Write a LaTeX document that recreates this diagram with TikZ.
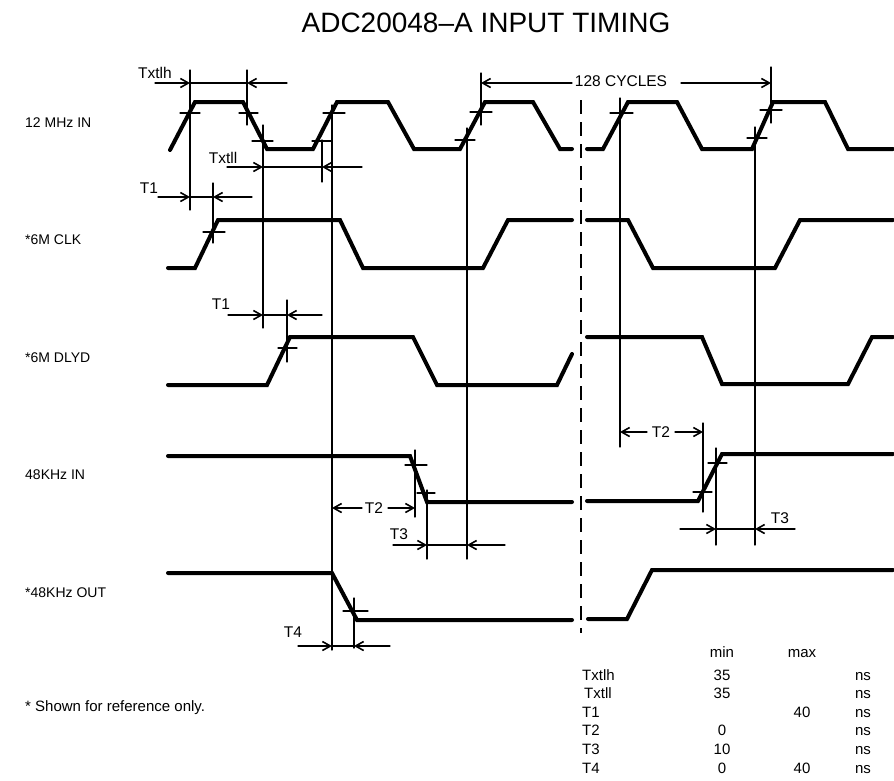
\documentclass[tikz,border=0pt]{standalone}
\usepackage{fontspec}
\setmainfont{Liberation Sans}
\usetikzlibrary{arrows.meta}

\begin{document}
\begin{tikzpicture}[line cap=round, line join=round, x=1pt, y=-1pt,
    wave/.style={line width=4pt, line join=miter},
    guide/.style={line width=1.3pt},
    dim/.style={line width=1.3pt, -{Straight Barb[length=8pt,width=9pt,line width=1.6pt]}},
    brk/.style={line width=2.5pt, line cap=butt, dash pattern=on 14pt off 8pt},
    ttl/.style={font=\fontsize{28}{32}\selectfont, anchor=base, inner sep=0pt},
    sig/.style={font=\fontsize{14}{16}\selectfont, anchor=base west, inner sep=0pt},
    tlabel/.style={font=\fontsize{15.5}{18}\selectfont, inner sep=0pt},
    tab/.style={font=\fontsize{15}{18}\selectfont, anchor=base, inner sep=0pt}]
    \useasboundingbox (0,0) rectangle (894,780);

    \node[ttl] (title) at (486,32) {ADC20048--A INPUT TIMING};

    % signal names
    \node[sig] (in12)  at (25,127) {12 MHz IN};
    \node[sig] (clk6)  at (25,244) {*6M CLK};
    \node[sig] (dly6)  at (25,362) {*6M DLYD};
    \node[sig] (in48)  at (25,479) {48KHz IN};
    \node[sig] (out48) at (25,597) {*48KHz OUT};
    \node[sig, font=\fontsize{15}{18}\selectfont] (note) at (25,711) {* Shown for reference only.};

    % break
    \draw[brk] (581,100) -- (581,633);

    % 12 MHz IN
    \draw[wave] (170,150) -- (195,102) -- (243,102) -- (267,149) -- (313,149) -- (337,102) -- (388,102)
        -- (414,149) -- (460,149) -- (485,102) -- (533,102) -- (560,149) -- (572,149);
    \draw[wave] (587,149) -- (603,149) -- (628,102) -- (677,102) -- (702,149) -- (752,149) -- (773,102)
        -- (825,102) -- (848,149) -- (893,149);

    % 6M CLK
    \draw[wave] (168,268) -- (195,268) -- (218,220) -- (340,220) -- (363,268) -- (483,268) -- (508,220) -- (572,220);
    \draw[wave] (587,220) -- (628,220) -- (653,268) -- (775,268) -- (800,220) -- (893,220);

    % 6M DLYD
    \draw[wave] (168,385) -- (267,385) -- (290,337) -- (413,337) -- (437,385) -- (557,385) -- (572,354);
    \draw[wave] (587,337) -- (702,337) -- (722,384) -- (848,384) -- (872,337) -- (893,337);

    % 48KHz IN
    \draw[wave] (168,456) -- (410,456) -- (427,502) -- (572,502);
    \draw[wave] (587,501) -- (698,501) -- (722,454) -- (893,454);

    % 48KHz OUT
    \draw[wave] (168,573) -- (332,573) -- (357,620) -- (572,620);
    \draw[wave] (588,619) -- (627,619) -- (652,570) -- (893,570);

    % reference lines
    \draw[guide] (190,70) -- (190,210);
    \draw[guide] (247,70) -- (247,125);
    \draw[guide] (263,125) -- (263,328);
    \draw[guide] (322,140) -- (322,182);
    \draw[guide] (332,105) -- (332,650);
    \draw[guide] (467,128) -- (467,559);
    \draw[guide] (481,73) -- (481,125);
    \draw[guide] (620,98) -- (620,447);
    \draw[guide] (755,127) -- (755,545);
    \draw[guide] (771,67) -- (771,123);
    \draw[guide] (213,183) -- (213,243);
    \draw[guide] (287,300) -- (287,362);
    \draw[guide] (415,450) -- (415,517);
    \draw[guide] (427,490) -- (427,559);
    \draw[guide] (703,423) -- (703,512);
    \draw[guide] (716,448) -- (716,545);
    \draw[guide] (354,598) -- (354,648);

    % level marks on the edges
    \draw[guide] (180,113) -- (200,113);
    \draw[guide] (239,113) -- (258,113);
    \draw[guide] (252,141) -- (273,141);
    \draw[guide] (312,141) -- (332,141);
    \draw[guide] (323,113) -- (345,113);
    \draw[guide] (455,140) -- (475,140);
    \draw[guide] (470,112) -- (492,112);
    \draw[guide] (610,113) -- (633,113);
    \draw[guide] (760,110) -- (782,110);
    \draw[guide] (747,138) -- (767,138);
    \draw[guide] (203,232) -- (225,232);
    \draw[guide] (278,348) -- (297,348);
    \draw[guide] (405,465) -- (427,465);
    \draw[guide] (417,493) -- (435,493);
    \draw[guide] (693,492) -- (712,492);
    \draw[guide] (708,463) -- (727,463);
    \draw[guide] (343,611) -- (368,611);

    % Txtlh
    \node[tlabel] (txtlh) at (155,73) {Txtlh};
    \draw[dim] (155,83) -- (190,83);
    \draw[guide] (190,83) -- (247,83);
    \draw[dim] (287,83) -- (247,83);

    % Txtll
    \node[tlabel] (txtll) at (223,158) {Txtll};
    \draw[dim] (227,167) -- (263,167);
    \draw[guide] (263,167) -- (322,167);
    \draw[dim] (362,167) -- (322,167);

    % T1 (6M CLK)
    \node[tlabel] (t1a) at (149,188) {T1};
    \draw[dim] (158,197) -- (190,197);
    \draw[guide] (190,197) -- (213,197);
    \draw[dim] (252,197) -- (213,197);

    % T1 (6M DLYD)
    \node[tlabel] (t1b) at (221,304) {T1};
    \draw[dim] (228,315) -- (263,315);
    \draw[guide] (263,315) -- (287,315);
    \draw[dim] (322,315) -- (287,315);

    % 128 cycles
    \node[tlabel] (cyc) at (621,81) {128 CYCLES};
    \draw[dim] (572,83) -- (481,83);
    \draw[dim] (681,83) -- (771,83);

    % T2, T3 falling 48KHz
    \node[tlabel] (t2a) at (374,508) {T2};
    \draw[dim] (362,508) -- (332,508);
    \draw[dim] (388,508) -- (415,508);
    \node[tlabel] (t3a) at (399,534) {T3};
    \draw[dim] (393,545) -- (427,545);
    \draw[guide] (427,545) -- (467,545);
    \draw[dim] (505,545) -- (467,545);

    % T2, T3 rising 48KHz
    \node[tlabel] (t2b) at (661,432) {T2};
    \draw[dim] (647,432) -- (620,432);
    \draw[dim] (675,432) -- (703,432);
    \node[tlabel] (t3b) at (780,518) {T3};
    \draw[dim] (680,529) -- (716,529);
    \draw[guide] (716,529) -- (755,529);
    \draw[dim] (795,529) -- (755,529);

    % T4
    \node[tlabel] (t4) at (293,632) {T4};
    \draw[dim] (298,646) -- (332,646);
    \draw[guide] (332,646) -- (354,646);
    \draw[dim] (390,646) -- (354,646);

    % table
    \node[tab] (hmin) at (722,657) {min};
    \node[tab] (hmax) at (802,657) {max};
    \node[tab, anchor=base west] (rlh) at (582,680) {Txtlh};
    \node[tab, anchor=base west] (rll) at (584,698) {Txtll};
    \node[tab, anchor=base west] (r1)  at (582,717) {T1};
    \node[tab, anchor=base west] (r2)  at (582,735) {T2};
    \node[tab, anchor=base west] (r3)  at (582,754) {T3};
    \node[tab, anchor=base west] (r4)  at (582,773) {T4};
    \node[tab] at (722,680) {35};
    \node[tab] at (722,698) {35};
    \node[tab] at (802,717) {40};
    \node[tab] at (722,735) {0};
    \node[tab] at (722,754) {10};
    \node[tab] at (722,773) {0};
    \node[tab] at (802,773) {40};
    \node[tab] at (863,680) {ns};
    \node[tab] at (863,698) {ns};
    \node[tab] at (863,717) {ns};
    \node[tab] at (863,735) {ns};
    \node[tab] at (863,754) {ns};
    \node[tab] at (863,773) {ns};
\end{tikzpicture}
\end{document}
